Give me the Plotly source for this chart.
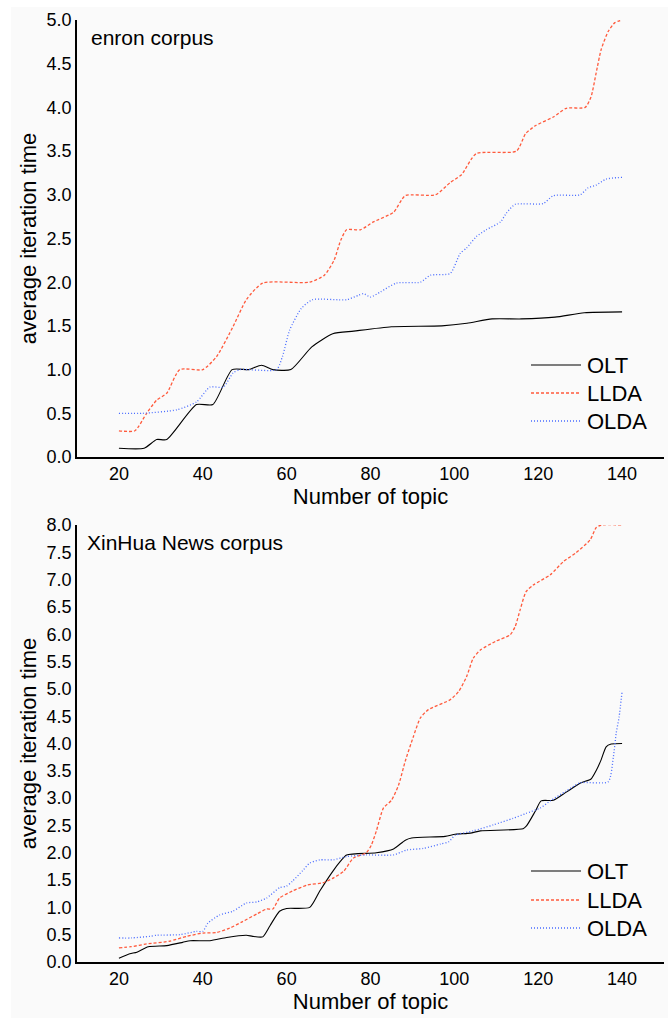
import plotly.graph_objects as go

# ---------------- data ----------------
series_names = ["OLT", "LLDA", "OLDA"]
panel_labels = ["enron corpus", "XinHua News corpus"]
x_tick_vals = [20, 40, 60, 80, 100, 120, 140]
top_y_ticks = [0.0, 0.5, 1.0, 1.5, 2.0, 2.5, 3.0, 3.5, 4.0, 4.5, 5.0]
bot_y_ticks = [0.0, 0.5, 1.0, 1.5, 2.0, 2.5, 3.0, 3.5, 4.0, 4.5, 5.0, 5.5, 6.0, 6.5, 7.0, 7.5, 8.0]

# enron corpus
enron_olt_x = [20, 26, 29, 31.4, 38.5, 42.4, 47, 51, 54, 56.7, 61, 66, 71, 76, 85, 97, 103, 109, 116, 124, 131, 140]
enron_olt_y = [0.1, 0.1, 0.2, 0.2, 0.6, 0.6, 1.0, 1.0, 1.05, 1.0, 1.0, 1.26, 1.41, 1.44, 1.49, 1.50, 1.53, 1.58, 1.58, 1.60, 1.65, 1.66]

enron_llda_x = [20, 23.8, 26.6, 29, 31.4, 34.5, 40, 43.3, 47.2, 50.4, 54.3, 65.5, 69, 71.3, 72.9, 74.3, 77.6, 80.7,
                85.5, 88.3, 95.5, 99, 101.7, 105.2, 114.8, 117, 119.3, 123.6, 126.7, 131.2, 132.6, 133.8, 135,
                136.7, 138.3, 140]
enron_llda_y = [0.3, 0.3, 0.5, 0.65, 0.73, 1.0, 1.0, 1.15, 1.49, 1.8, 1.99, 2.0, 2.08, 2.25, 2.48, 2.6, 2.6, 2.69,
                2.8, 2.99, 3.0, 3.14, 3.23, 3.47, 3.5, 3.7, 3.79, 3.89, 3.99, 4.0, 4.12, 4.39, 4.66,
                4.87, 4.97, 5.0]

enron_olda_x = [20, 25.7, 33.8, 38.5, 41.7, 44.9, 47.2, 48.8, 57.6, 59, 60.7, 63.5, 66.2, 74.3, 77.1, 78.3, 80, 82.4,
                86.2, 91.9, 94.3, 99, 101.4, 102.9, 105.2, 107.6, 111, 112.4, 114.5, 121.2, 123.6, 130, 131.9,
                133.8, 136.2, 140]
enron_olda_y = [0.5, 0.5, 0.54, 0.63, 0.8, 0.8, 0.96, 1.0, 1.0, 1.15, 1.45, 1.7, 1.8, 1.8, 1.85, 1.87, 1.83, 1.89,
                1.99, 2.0, 2.08, 2.1, 2.33, 2.39, 2.52, 2.6, 2.69, 2.79, 2.89, 2.9, 2.99, 3.0, 3.08,
                3.11, 3.18, 3.2]

# XinHua News corpus
xinhua_olt_x = [20, 22.6, 24.3, 27, 31.4, 35.2, 37, 41.7, 45.7, 50.4, 51.9, 54.3, 56, 58.3, 60, 65.5, 67.9, 71,
                72.9, 74.3, 81.4, 85.5, 88.3, 89.8, 97.8, 100.2, 103.8, 106.2, 116.4, 117.2, 119.3, 120.7, 123.6,
                126.7, 130.2, 132.6, 133.8, 135, 136.2, 137.4, 140]
xinhua_olt_y = [0.07, 0.15, 0.18, 0.28, 0.3, 0.36, 0.39, 0.39, 0.45, 0.49, 0.47, 0.46, 0.66, 0.93, 0.98, 1.0, 1.30, 1.66,
                1.85, 1.96, 2.0, 2.07, 2.23, 2.27, 2.3, 2.34, 2.36, 2.40, 2.44, 2.49, 2.76, 2.95, 2.96,
                3.11, 3.28, 3.35, 3.50, 3.70, 3.94, 3.99, 4.0]

xinhua_llda_x = [20, 22.9, 26.6, 32, 36.2, 40, 43.3, 46.4, 49.5, 52.9, 55.2, 56.7, 58.3, 61.4, 65, 68.6, 71.2, 73.6,
                 75.9, 79, 80.2, 81.4, 83.1, 85, 86.7, 88.3, 90.2, 91.9, 93.8, 99, 101, 102.9, 104.5, 106.2, 109.8,
                 113.3, 114.5, 115.7, 117.1, 118.8, 122.9, 126, 129, 132.4, 133.8, 135, 140]
xinhua_llda_y = [0.26, 0.28, 0.33, 0.38, 0.47, 0.53, 0.54, 0.62, 0.74, 0.88, 0.97, 0.97, 1.17, 1.30, 1.41, 1.45, 1.54, 1.66,
                 1.9, 2.0, 2.14, 2.40, 2.82, 2.96, 3.24, 3.68, 4.12, 4.47, 4.62, 4.80, 4.95, 5.22, 5.56, 5.71, 5.87,
                 5.99, 6.14, 6.45, 6.78, 6.90, 7.09, 7.33, 7.49, 7.73, 7.95, 8.0, 8.0]

xinhua_olda_x = [20, 22.9, 27.4, 29, 34.5, 38.5, 40, 41.2, 44, 47.2, 50.4, 52.9, 55.2, 58.3, 60, 61.4, 63.8, 65.5,
                 67.9, 71.2, 74.3, 79, 85.5, 88.6, 92.6, 96.7, 98.6, 100.2, 104.5, 109.3, 114, 117.1, 120.5, 122.9,
                 126.7, 130, 136.7, 137.9, 138.6, 139.3, 140]
xinhua_olda_y = [0.44, 0.44, 0.47, 0.49, 0.50, 0.56, 0.56, 0.71, 0.86, 0.93, 1.08, 1.10, 1.17, 1.36, 1.39, 1.48, 1.67, 1.81,
                 1.87, 1.87, 1.93, 1.96, 1.96, 2.05, 2.08, 2.16, 2.20, 2.32, 2.40, 2.51, 2.63, 2.72, 2.82, 2.95,
                 3.13, 3.28, 3.3, 3.74, 4.19, 4.49, 4.95]

# ---------------- styling ----------------
FONT = "Arial, Liberation Sans, sans-serif"
BG = "#fafafa"
styles = {
    "OLT": dict(color="#000000", width=1.1, dash="solid"),
    "LLDA": dict(color="#ff5a3c", width=1.3, dash="3px,2px"),
    "OLDA": dict(color="#4a6cff", width=1.3, dash="1px,2px"),
}

fig = go.Figure()

panels = [
    ("x", "y", [(enron_olt_x, enron_olt_y), (enron_llda_x, enron_llda_y), (enron_olda_x, enron_olda_y)]),
    ("x2", "y2", [(xinhua_olt_x, xinhua_olt_y), (xinhua_llda_x, xinhua_llda_y), (xinhua_olda_x, xinhua_olda_y)]),
]
for xa, ya, data in panels:
    for name, (xs, ys) in zip(series_names, data):
        fig.add_trace(go.Scatter(
            x=xs, y=ys, name=name, mode="lines",
            line=dict(shape="spline", smoothing=0.6, **styles[name]),
            xaxis=xa, yaxis=ya, showlegend=False,
        ))

# plot area pixels: x 77..664, top panel y 20..457, bottom panel y 525..962
W, H = 668, 1018
ml, mr, mt, mb = 77, 4, 20, 56
pw = W - ml - mr
ph = H - mt - mb
top_dom = [(962 - 457) / ph, 1.0]
bot_dom = [0.0, (962 - 525) / ph]


def px(xp):
    return (xp - ml) / pw


def py(yp):
    return (962 - yp) / ph


axis_common = dict(
    showline=True, linecolor="black", linewidth=1.5, showgrid=False, zeroline=False,
    ticks="", tickfont=dict(family=FONT, size=18, color="black"),
)
xcommon = dict(axis_common, range=[10, 150], tickmode="array", tickvals=x_tick_vals,
               title=dict(text="Number of topic", font=dict(family=FONT, size=22, color="black"), standoff=4))
ytitle = dict(text="average iteration time", font=dict(family=FONT, size=22, color="black"), standoff=4)

fig.update_layout(
    width=W, height=H,
    margin=dict(l=ml, r=mr, t=mt, b=mb),
    paper_bgcolor=BG, plot_bgcolor=BG,
    font=dict(family=FONT, color="black"),
    xaxis=dict(xcommon, domain=[0, 1], anchor="y"),
    yaxis=dict(axis_common, domain=top_dom, anchor="x", range=[0, 5.0], tickmode="array",
               tickvals=top_y_ticks, ticktext=[f"{v:.1f}" for v in top_y_ticks], title=ytitle),
    xaxis2=dict(xcommon, domain=[0, 1], anchor="y2"),
    yaxis2=dict(axis_common, domain=bot_dom, anchor="x2", range=[0, 8.0], tickmode="array",
                tickvals=bot_y_ticks, ticktext=[f"{v:.1f}" for v in bot_y_ticks], title=ytitle),
    showlegend=False,
)

# corpus labels
fig.add_annotation(text=panel_labels[0], xref="paper", yref="paper", x=px(89), y=py(37),
                   xanchor="left", yanchor="middle", showarrow=False, font=dict(family=FONT, size=21, color="black"))
fig.add_annotation(text=panel_labels[1], xref="paper", yref="paper", x=px(85), y=py(542),
                   xanchor="left", yanchor="middle", showarrow=False, font=dict(family=FONT, size=21, color="black"))

# legends (one per panel)
legend_rows = {"top": [365, 393, 421], "bottom": [871, 900, 928]}
for rows in legend_rows.values():
    for name, yrow in zip(series_names, rows):
        st = styles[name]
        fig.add_shape(type="line", xref="paper", yref="paper", x0=px(531), x1=px(581), y0=py(yrow), y1=py(yrow),
                      line=dict(color=st["color"], width=st["width"], dash=st["dash"]))
        fig.add_annotation(text=name, xref="paper", yref="paper", x=px(585), y=py(yrow),
                           xanchor="left", yanchor="middle", showarrow=False,
                           font=dict(family=FONT, size=22, color="black"))

# white strips at the left and top edges of the image
fig.add_shape(type="rect", xref="paper", yref="paper", x0=px(-5), x1=px(11),
              y0=py(1030), y1=py(-5), fillcolor="white", line=dict(width=0), layer="below")
fig.add_shape(type="rect", xref="paper", yref="paper", x0=px(-5), x1=px(680),
              y0=py(7), y1=py(-5), fillcolor="white", line=dict(width=0), layer="below")

fig.write_html("out.html", config={"displayModeBar": False},
               post_script="document.body.style.margin='0px';")
